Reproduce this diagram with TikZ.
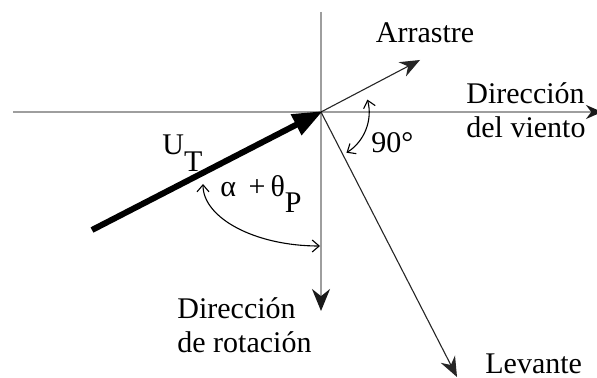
\documentclass[tikz,border=0pt]{standalone}
\usepackage{fontspec}
\setmainfont{Liberation Serif}
\newfontfamily\lserif{Liberation Serif}
\usetikzlibrary{arrows.meta}
\begin{document}
\begin{tikzpicture}[x=0.5pt,y=-0.5pt,
  axisline/.style={draw=black!38, line width=1pt},
  vecline/.style={draw=black!85, line width=0.55pt},
  arcline/.style={draw=black, line width=0.55pt, {Straight Barb[length=3.5pt,width=6pt]}-{Straight Barb[length=3.5pt,width=6pt]}},
  lbl/.style={font=\lserif\fontsize{15}{17}\selectfont, inner sep=0pt, align=left}]
\useasboundingbox (0,0) rectangle (597,378);
\coordinate (O) at (321,112);
\coordinate (HL) at (13,112);
\coordinate (HR) at (602,112);
\coordinate (VT) at (321,12);
\coordinate (VB) at (321,311);
\coordinate (DR) at (420,60);
\coordinate (LV) at (457,377);
\coordinate (U0) at (92,230);
\coordinate (A1) at (203,184);
\coordinate (A2) at (320,246);
\coordinate (N1) at (367.4,99.6);
% axes
\draw[axisline, -{Stealth[length=11pt,width=9pt,color=black!90]}] (VT) -- (VB);
\draw[axisline, -{Stealth[length=8pt,width=7pt,color=black!90]}] (HL) -- (HR);
% drag and lift
\draw[vecline, -{Stealth[length=10pt,width=8pt]}] (O) -- (DR);
\draw[vecline, -{Stealth[length=10pt,width=8pt]}] (O) -- (LV);
% U_T
\draw[line width=3pt, -{Triangle[length=15pt,width=11pt]}, shorten >=-1pt] (U0) -- (O);
% angle arcs
\draw[arcline] (A1) .. controls (203,218) and (255,246) .. (A2);
\draw[arcline] (N1) arc[start angle=15, end angle=-58, radius=24pt];
% labels
\node[lbl, anchor=base] (drag) at (425,43) {Arrastre};
\node[lbl, anchor=base west] (wind) at (466,138) {Dirección\\del viento};
\node[lbl, anchor=base west] (ang90) at (371,153) {90°};
\node[lbl, anchor=base west] (ut) at (162,155) {U\raisebox{-8.5pt}{T}};
\node[lbl, anchor=base west] (alpha) at (220,197) {α \,+\,θ\raisebox{-8pt}{P}};
\node[lbl, anchor=base west] (rot) at (177,352) {Dirección\\de rotación};
\node[lbl, anchor=base west] (lift) at (485,373) {Levante};
\end{tikzpicture}
\end{document}
